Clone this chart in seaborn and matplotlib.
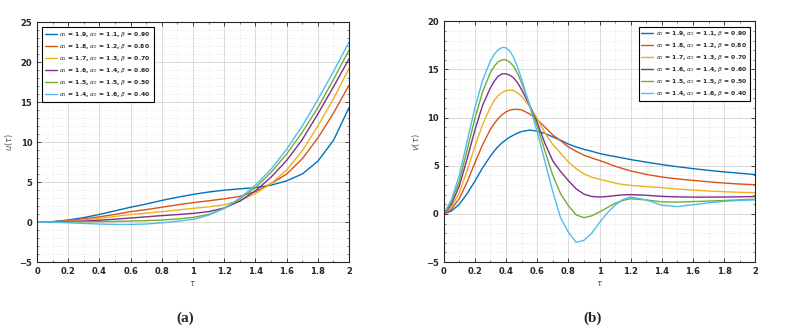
import numpy as np
import pandas as pd
import matplotlib
matplotlib.use("Agg")
import matplotlib.pyplot as plt
import seaborn as sns
from matplotlib.ticker import MultipleLocator

# parameter sets (same for both panels)
alpha1 = ["1.9", "1.8", "1.7", "1.6", "1.5", "1.4"]
alpha2 = ["1.1", "1.2", "1.3", "1.4", "1.5", "1.6"]
beta = ["0.90", "0.80", "0.70", "0.60", "0.50", "0.40"]
colors = ["#0072BD", "#D95319", "#EDB120", "#7E2F8E", "#77AC30", "#4DBEEE"]

# panel (a): u(tau)
tau_a = [0, 0.1, 0.2, 0.3, 0.4, 0.5, 0.6, 0.7, 0.8, 0.9, 1.0,
         1.1, 1.2, 1.3, 1.4, 1.5, 1.6, 1.7, 1.8, 1.9, 2.0]
u_19 = [0, 0.05, 0.25, 0.55, 0.95, 1.4, 1.85, 2.25, 2.7, 3.1, 3.45,
        3.75, 3.98, 4.15, 4.3, 4.6, 5.15, 6.0, 7.6, 10.2, 14.3]
u_18 = [0, 0.03, 0.18, 0.4, 0.65, 0.95, 1.3, 1.55, 1.85, 2.15, 2.42,
        2.65, 2.9, 3.2, 3.8, 4.8, 6.0, 7.9, 10.5, 13.6, 17.1]
u_17 = [0, 0.02, 0.1, 0.25, 0.45, 0.7, 0.95, 1.1, 1.3, 1.5, 1.7,
        1.9, 2.15, 2.7, 3.55, 4.8, 6.5, 8.9, 12.0, 15.4, 19.2]
u_16 = [0, 0.01, 0.05, 0.12, 0.22, 0.35, 0.5, 0.65, 0.8, 0.93, 1.08,
        1.3, 1.75, 2.6, 3.9, 5.6, 7.7, 10.3, 13.5, 16.9, 20.4]
u_15 = [0, 0, 0, 0.03, 0.05, 0.08, 0.12, 0.17, 0.25, 0.38, 0.58,
        0.95, 1.7, 2.9, 4.3, 6.2, 8.5, 11.2, 14.3, 17.8, 21.5]
u_14 = [0, -0.03, -0.1, -0.18, -0.25, -0.3, -0.3, -0.25, -0.1, 0.1, 0.33,
        0.85, 1.7, 3.0, 4.6, 6.6, 9.1, 12.0, 15.3, 18.8, 22.5]

# panel (b): v(tau)
tau_b = [0, 0.05, 0.1, 0.15, 0.2, 0.25, 0.3, 0.325, 0.35, 0.375, 0.4,
         0.425, 0.45, 0.475, 0.5, 0.55, 0.6, 0.65, 0.7, 0.75, 0.8, 0.85,
         0.9, 0.95, 1.0, 1.05, 1.1, 1.15, 1.2,
         1.3, 1.4, 1.5, 1.6, 1.7, 1.8, 1.9, 2.0]
v_19 = [0, 0.3, 1.0, 2.1, 3.4, 4.8, 6.0, 6.55, 7.0, 7.4, 7.7,
        7.98, 8.2, 8.4, 8.55, 8.7, 8.6, 8.35, 8.0, 7.65, 7.25, 6.95,
        6.7, 6.5, 6.27, 6.1, 5.95, 5.8, 5.64,
        5.37, 5.12, 4.9, 4.7, 4.52, 4.36, 4.22, 4.08]
v_18 = [0, 0.5, 1.6, 3.3, 5.3, 7.2, 8.8, 9.4, 9.9, 10.3, 10.6,
        10.78, 10.85, 10.85, 10.8, 10.4, 9.8, 9.0, 8.2, 7.6, 6.95, 6.5,
        6.1, 5.8, 5.55, 5.25, 4.95, 4.7, 4.46,
        4.1, 3.83, 3.63, 3.48, 3.33, 3.2, 3.1, 3.03]
v_17 = [0, 0.75, 2.2, 4.5, 7.0, 9.3, 11.1, 11.8, 12.3, 12.62, 12.8,
        12.85, 12.8, 12.55, 12.2, 11.2, 9.9, 8.4, 7.2, 6.3, 5.4, 4.7,
        4.15, 3.8, 3.6, 3.4, 3.2, 3.05, 2.96,
        2.83, 2.72, 2.58, 2.47, 2.38, 2.3, 2.24, 2.2]
v_16 = [0, 1.0, 2.9, 5.7, 8.7, 11.3, 13.1, 13.8, 14.3, 14.55, 14.55,
        14.4, 14.1, 13.6, 12.9, 11.3, 9.5, 7.3, 5.5, 4.4, 3.45, 2.6,
        2.05, 1.8, 1.75, 1.8, 1.9, 1.97, 2.0,
        1.93, 1.82, 1.76, 1.74, 1.74, 1.75, 1.77, 1.8]
v_15 = [0, 1.25, 3.4, 6.6, 9.9, 12.7, 14.7, 15.35, 15.8, 16.0, 16.0,
        15.75, 15.3, 14.55, 13.6, 11.4, 9.1, 6.5, 4.0, 2.1, 0.85, -0.1,
        -0.4, -0.2, 0.2, 0.65, 1.1, 1.4, 1.57,
        1.45, 1.25, 1.22, 1.28, 1.33, 1.39, 1.46, 1.53]
v_14 = [0, 1.5, 4.0, 7.5, 11.0, 13.9, 15.9, 16.6, 17.05, 17.28, 17.25,
        16.9, 16.2, 15.2, 14.0, 11.3, 8.5, 5.4, 2.3, -0.4, -1.9, -2.95,
        -2.75, -2.0, -0.9, 0.1, 0.9, 1.5, 1.75,
        1.45, 0.9, 0.75, 0.95, 1.15, 1.3, 1.4, 1.45]

labels = [rf"$\alpha_1$ = {a}, $\alpha_2$ = {b}, $\beta$ = {c}"
          for a, b, c in zip(alpha1, alpha2, beta)]

def long_df(tau, series):
    rows = []
    for lab, vals in zip(labels, series):
        rows.append(pd.DataFrame({"tau": tau, "val": vals, "case": lab}))
    return pd.concat(rows, ignore_index=True)

df_a = long_df(tau_a, [u_19, u_18, u_17, u_16, u_15, u_14])
df_b = long_df(tau_b, [v_19, v_18, v_17, v_16, v_15, v_14])

sns.set_theme(style="ticks")
plt.rcParams["font.family"] = ["DejaVu Sans"]

fig = plt.figure(figsize=(8.05, 3.29), dpi=100)
ax_a = fig.add_axes([0.046, 0.2036, 0.3876, 0.7295])
ax_b = fig.add_axes([0.5512, 0.2036, 0.3871, 0.7316])

def style_axes(ax, ylim, ylab):
    ax.set_xlim(0, 2)
    ax.set_ylim(*ylim)
    ax.xaxis.set_minor_locator(MultipleLocator(0.1))
    ax.yaxis.set_major_locator(MultipleLocator(5))
    ax.yaxis.set_minor_locator(MultipleLocator(1))
    ax.set_xticks(np.arange(0, 2.01, 0.2))
    ax.set_xticklabels(["0", "0.2", "0.4", "0.6", "0.8", "1", "1.2", "1.4",
                        "1.6", "1.8", "2"])
    ax.grid(which="major", color="#d6d6d6", linewidth=0.6)
    ax.grid(which="minor", color="#dcdcdc", linewidth=0.5, linestyle=":")
    ax.set_axisbelow(True)
    ax.tick_params(which="both", direction="in", top=True, right=True,
                   colors="#262626", labelsize=6)
    ax.tick_params(which="major", length=3, width=0.6)
    ax.tick_params(which="minor", length=1.5, width=0.4)
    for lab in ax.get_xticklabels() + ax.get_yticklabels():
        lab.set_fontweight("bold")
    for sp in ax.spines.values():
        sp.set_visible(True)
        sp.set_color("#262626")
        sp.set_linewidth(0.8)
    ax.set_xlabel(r"$\tau$", fontsize=6, color="#555555", labelpad=2)
    ax.set_ylabel(ylab, fontsize=6, color="#555555", labelpad=3)

for ax, df, ylim, ylab, loc in [(ax_a, df_a, (-5, 25), r"$u(\tau)$", "upper left"),
                                (ax_b, df_b, (-5, 20), r"$v(\tau)$", "upper right")]:
    sns.lineplot(data=df, x="tau", y="val", hue="case", palette=colors,
                 linewidth=1.0, ax=ax, sort=True)
    style_axes(ax, ylim, ylab)
    leg = ax.legend(loc=loc, prop={"size": 4.3, "weight": "bold"},
                    frameon=True, fancybox=False, framealpha=1,
                    edgecolor="black", handlelength=2.0, labelspacing=0.5,
                    borderpad=0.45, borderaxespad=0.9, handletextpad=0.4)
    leg.get_frame().set_linewidth(0.8)

fig.text(185 / 805, 1 - 318 / 329, "(a)", fontsize=11, fontweight="bold",
         family="Liberation Serif", ha="center", va="center")
fig.text(593 / 805, 1 - 318 / 329, "(b)", fontsize=11, fontweight="bold",
         family="Liberation Serif", ha="center", va="center")

fig.savefig("out.png", dpi=100)
